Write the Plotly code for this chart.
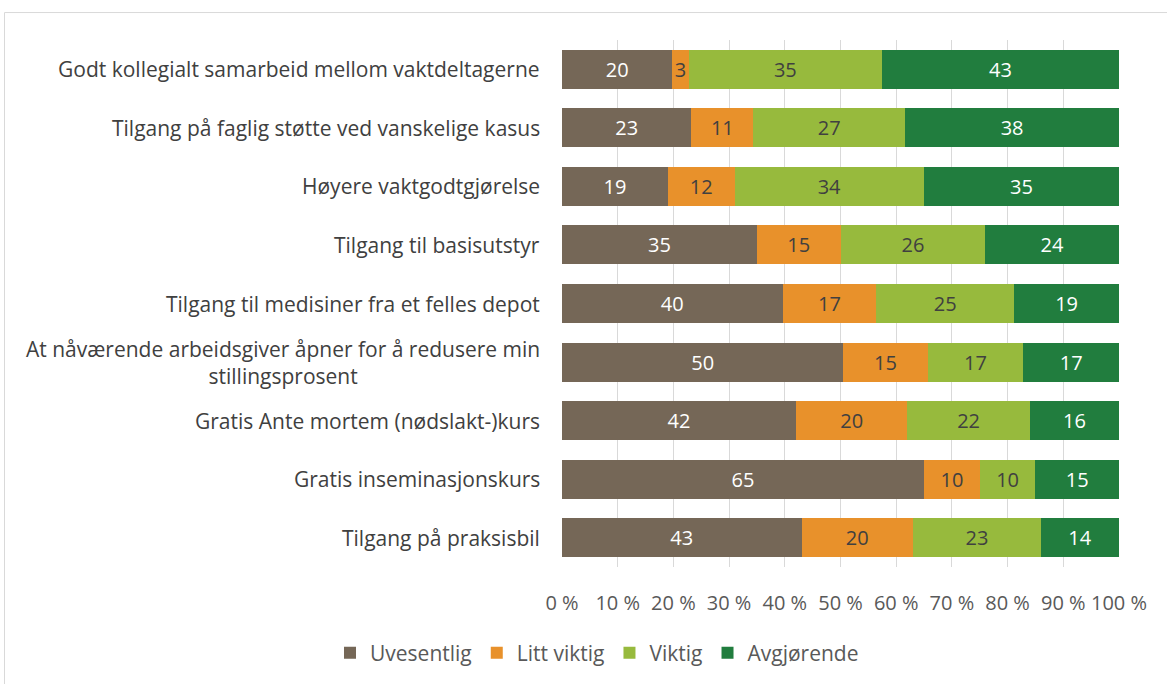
import plotly.graph_objects as go

categories = [
    "Godt kollegialt samarbeid mellom vaktdeltagerne",
    "Tilgang på faglig støtte ved vanskelige kasus",
    "Høyere vaktgodtgjørelse",
    "Tilgang til basisutstyr",
    "Tilgang til medisiner fra et felles depot",
    "At nåværende arbeidsgiver åpner for å redusere min<br>stillingsprosent",
    "Gratis Ante mortem (nødslakt-)kurs",
    "Gratis inseminasjonskurs",
    "Tilgang på praksisbil",
]
uvesentlig = [20, 23, 19, 35, 40, 50, 42, 65, 43]
litt_viktig = [3, 11, 12, 15, 17, 15, 20, 10, 20]
viktig = [35, 27, 34, 26, 25, 17, 22, 10, 23]
avgjorende = [43, 38, 35, 24, 19, 17, 16, 15, 14]
tick_values = [0, 10, 20, 30, 40, 50, 60, 70, 80, 90, 100]
tick_labels = [f"{v} %" for v in tick_values]

series = [
    ("Uvesentlig", uvesentlig, "#756757", "white"),
    ("Litt viktig", litt_viktig, "#E8912B", "#404040"),
    ("Viktig", viktig, "#97BA3D", "#404040"),
    ("Avgjørende", avgjorende, "#217D3E", "white"),
]

FONT = "Open Sans"
fig = go.Figure()
for name, vals, color, tcol in series:
    fig.add_trace(go.Bar(
        name=name, y=categories, x=vals, orientation="h",
        marker=dict(color=color, line=dict(width=0)),
        text=vals, texttemplate="%{text}", textposition="inside",
        insidetextanchor="middle", textangle=0, constraintext="none",
        textfont=dict(family=FONT, size=20, color=tcol),
    ))

annotations = []
for c in categories:
    annotations.append(dict(
        x=0, xref="paper", y=c, yref="y", text=c, showarrow=False,
        xanchor="right", xshift=-20, align="center",
        font=dict(family=FONT, size=21, color="#404040"),
    ))

pl, pr, pt, pb = 562, 1119, 40, 568
W, H = 1167, 684
pw, ph = pr - pl, pb - pt

fig.update_layout(
    width=W, height=H,
    barmode="stack", barnorm="percent", bargap=0.335,
    margin=dict(l=pl, r=W - pr, t=pt, b=H - pb),
    paper_bgcolor="white", plot_bgcolor="white",
    font=dict(family=FONT, color="#595959"),
    uniformtext=dict(minsize=20, mode="show"),
    xaxis=dict(
        range=[0, 100], tickmode="array", tickvals=tick_values,
        ticktext=tick_labels,
        showgrid=True, gridcolor="#D9D9D9", gridwidth=1,
        zeroline=False, showline=False, ticks="",
        ticklabelstandoff=22,
        tickfont=dict(family=FONT, size=20, color="#595959"),
        fixedrange=True,
    ),
    yaxis=dict(
        categoryorder="array", categoryarray=categories,
        autorange="reversed", showticklabels=False, showgrid=False,
        zeroline=False, ticks="", fixedrange=True,
    ),
    legend=dict(
        orientation="h", x=(597 - pl) / pw, xanchor="center",
        y=(pb - 653) / ph, yanchor="middle",
        font=dict(family=FONT, size=21, color="#595959"),
        traceorder="normal", itemwidth=30,
    ),
    annotations=annotations,
    shapes=[dict(
        type="rect", xref="paper", yref="paper",
        x0=(4.5 - pl) / pw, x1=(1175 - pl) / pw,
        y0=(pb - 695) / ph, y1=(pb - 12.5) / ph,
        line=dict(color="#D9D9D9", width=1), fillcolor="rgba(0,0,0,0)",
        layer="below",
    )],
)

fig.write_html(
    "out.html",
    config={"displayModeBar": False},
    post_script="document.body.style.margin='0';document.body.style.overflow='hidden';",
)
